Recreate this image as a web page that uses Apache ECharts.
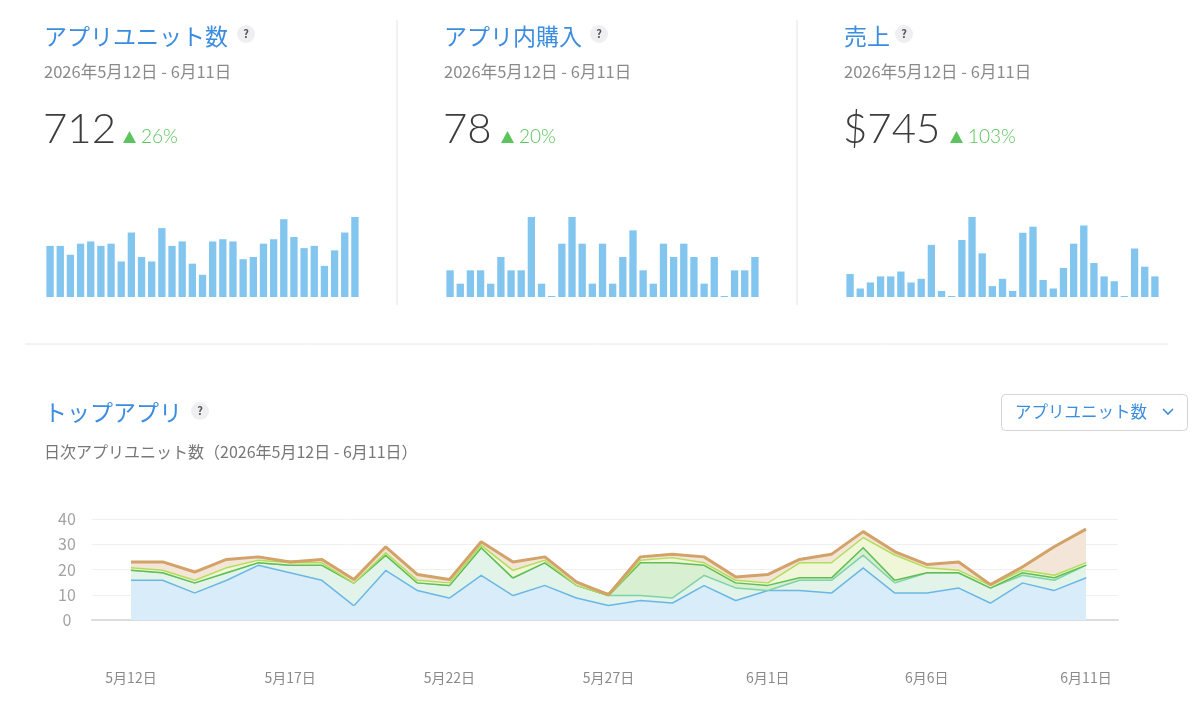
<!DOCTYPE html>
<html><head><meta charset="utf-8">
<script src="https://cdn.jsdelivr.net/npm/echarts@6/dist/echarts.min.js"></script>
<style>html,body{margin:0;padding:0;background:#fff}#c{width:1200px;height:706px}</style>
</head><body><div id="c"></div>
<script>
const days = ['5月12日','5月13日','5月14日','5月15日','5月16日','5月17日','5月18日','5月19日','5月20日','5月21日','5月22日','5月23日','5月24日','5月25日','5月26日','5月27日','5月28日','5月29日','5月30日','5月31日','6月1日','6月2日','6月3日','6月4日','6月5日','6月6日','6月7日','6月8日','6月9日','6月10日','6月11日'];
const units = [23,23,19,24,25,23,24,16,29,18,16,31,23,25,15,10,25,26,25,17,18,24,26,35,27,22,23,14,21,29,36];
const purchases = [2,1,2,2,1,3,2,2,6,1,0,4,6,4,1,4,1,3,5,2,1,4,3,4,3,1,3,0,2,2,3];
const revenue = [19,7,12,17,17,21,12,15,43,5,0,47,66,36,9,15,5,53,58,14,7,24,44,59,28,17,13,0,40,25,17];
const appA = [16,16,11,16,22,19,16,6,20,12,9,18,10,14,9,6,8,7,14,8,12,12,11,21,11,11,13,7,15,12,17];
const appB = [4,3,4,3,1,3,6,9,6,3,5,11,7,9,5,4,2,2,4,5,0,4,5,5,4,8,6,6,3,4,5];
const appC = [0,0,0,0,0,0,0,0,0,0,0,0,0,0,0,0,13,14,4,2,2,1,1,3,1,0,0,0,1,1,0];
const appD = [1,1,1,2,1,1,1,0,1,1,1,1,3,1,0,0,1,2,1,1,1,6,6,4,10,2,1,1,1,1,1];
const appE = [2,3,3,3,1,0,1,1,2,2,1,1,3,1,1,0,1,1,2,1,3,1,3,2,1,1,3,0,1,11,13];
const yTicks = [0,10,20,30,40];

const FONT = '"Noto Sans CJK JP", "Noto Sans", sans-serif';
const NUMFONT = 'Lato, "Open Sans", sans-serif';
const BLUE = '#3b8de0';
const chart = echarts.init(document.getElementById('c'));

const xAxes = [], yAxes = [], grids = [], series = [];
[units, purchases, revenue].forEach((d, k) => {
  grids.push({left: 45 + 400 * k, width: 315, top: 217, height: 80});
  xAxes.push({type: 'category', gridIndex: k, data: days, show: false});
  yAxes.push({type: 'value', gridIndex: k, min: 0, max: 'dataMax', show: false});
  series.push({type: 'bar', xAxisIndex: k, yAxisIndex: k, data: d, barCategoryGap: '28%',
    barMinHeight: 1, itemStyle: {color: '#82c5ef'}, silent: true});
});
// background grid for the stacked chart (wider split lines)
grids.push({left: 92, width: 1026, top: 519, height: 101});
xAxes.push({type: 'value', gridIndex: 3, min: 0, max: 1, axisLabel: {show: false}, axisTick: {show: false},
  splitLine: {show: false}, axisLine: {show: true, lineStyle: {color: '#dcdcdc', width: 2}}});
yAxes.push({type: 'value', gridIndex: 3, min: yTicks[0], max: yTicks[yTicks.length - 1], interval: 10,
  axisLine: {show: false}, axisTick: {show: false},
  axisLabel: {color: '#a3a3a3', fontSize: 16, align: 'center', margin: 25, fontFamily: FONT},
  splitLine: {lineStyle: {color: '#f0f0f0', width: 1}}});
// data grid
grids.push({left: 131, width: 955, top: 519, height: 101});
xAxes.push({type: 'category', gridIndex: 4, data: days, boundaryGap: false,
  axisLine: {show: false}, axisTick: {show: false},
  axisLabel: {interval: 4, color: '#8a8a8a', fontSize: 14, margin: 51, fontFamily: FONT}});
yAxes.push({type: 'value', gridIndex: 4, min: 0, max: 40, show: false});

const apps = [
  [appA, '#6ab7e6', '#d9ecfa'],
  [appB, '#7fd3a8', '#e2f4ea'],
  [appC, '#62bd55', '#d9efd1'],
  [appD, '#b2dd5a', '#eff7d8'],
  [appE, '#d2a269', '#f3e6d8']
];
apps.forEach(([d, lc, fc], i) => {
  series.push({type: 'line', xAxisIndex: 4, yAxisIndex: 4, stack: 'total', data: d, symbol: 'none',
    lineStyle: {color: lc, width: 3}, areaStyle: {color: fc, opacity: 1}, silent: true, z: 2 + i});
});

function qMark(x, y) {
  return [
    {type: 'circle', shape: {cx: x, cy: y, r: 9}, style: {fill: '#efeff1'}},
    {type: 'text', x: x, y: y, style: {text: '?', fill: '#555', font: 'bold 11px ' + FONT, align: 'center', verticalAlign: 'middle'}}
  ];
}
function txt(x, y, text, fill, size, weight, fam) {
  return {type: 'text', x: x, y: y, style: {text: text, fill: fill,
    font: (weight || 'normal') + ' ' + size + 'px ' + (fam || FONT), verticalAlign: 'middle', align: 'left'}};
}
const panels = [
  {x: 44, title: 'アプリユニット数', q: 246, num: '712', pctX: 123, pct: '26%'},
  {x: 444, title: 'アプリ内購入', q: 599, num: '78', pctX: 501, pct: '20%'},
  {x: 844, title: '売上', q: 904, num: '$745', pctX: 950, pct: '103%'}
];
const g = [];
panels.forEach(p => {
  g.push(txt(p.x, 36, p.title, BLUE, 23));
  g.push(...qMark(p.q, 34));
  g.push(txt(p.x, 72, '2026年5月12日 - 6月11日', '#8a8a8a', 16.5));
  g.push(txt(p.x - 1, 129, p.num, '#3c3c3c', 42, 300, NUMFONT));
  g.push({type: 'polygon', shape: {points: [[p.pctX, 143], [p.pctX + 13, 143], [p.pctX + 6.5, 131]]}, style: {fill: '#5cc45c'}});
  g.push(txt(p.pctX + 18, 137, p.pct, '#5cc45c', 19, 300, NUMFONT));
});
g.push({type: 'line', shape: {x1: 397, y1: 20, x2: 397, y2: 305}, style: {stroke: '#e6e6e6', lineWidth: 1}});
g.push({type: 'line', shape: {x1: 797, y1: 20, x2: 797, y2: 305}, style: {stroke: '#e6e6e6', lineWidth: 1}});
g.push({type: 'line', shape: {x1: 25, y1: 344, x2: 1168, y2: 344}, style: {stroke: '#e6e6e6', lineWidth: 1}});
g.push(txt(44, 412, 'トップアプリ', BLUE, 23));
g.push(...qMark(200, 411));
g.push(txt(44, 452, '日次アプリユニット数（2026年5月12日 - 6月11日）', '#777', 16));
g.push({type: 'rect', shape: {x: 1001.5, y: 394.5, width: 186, height: 36, r: 4}, style: {fill: '#fff', stroke: '#d4d4d4', lineWidth: 1}});
g.push(txt(1015, 412, 'アプリユニット数', BLUE, 16.5));
g.push({type: 'polyline', shape: {points: [[1163, 409], [1168, 414], [1173, 409]]}, style: {stroke: BLUE, lineWidth: 1.6, fill: null}});

chart.setOption({
  animation: false,
  grid: grids, xAxis: xAxes, yAxis: yAxes, series: series,
  graphic: g
});
</script></body></html>
